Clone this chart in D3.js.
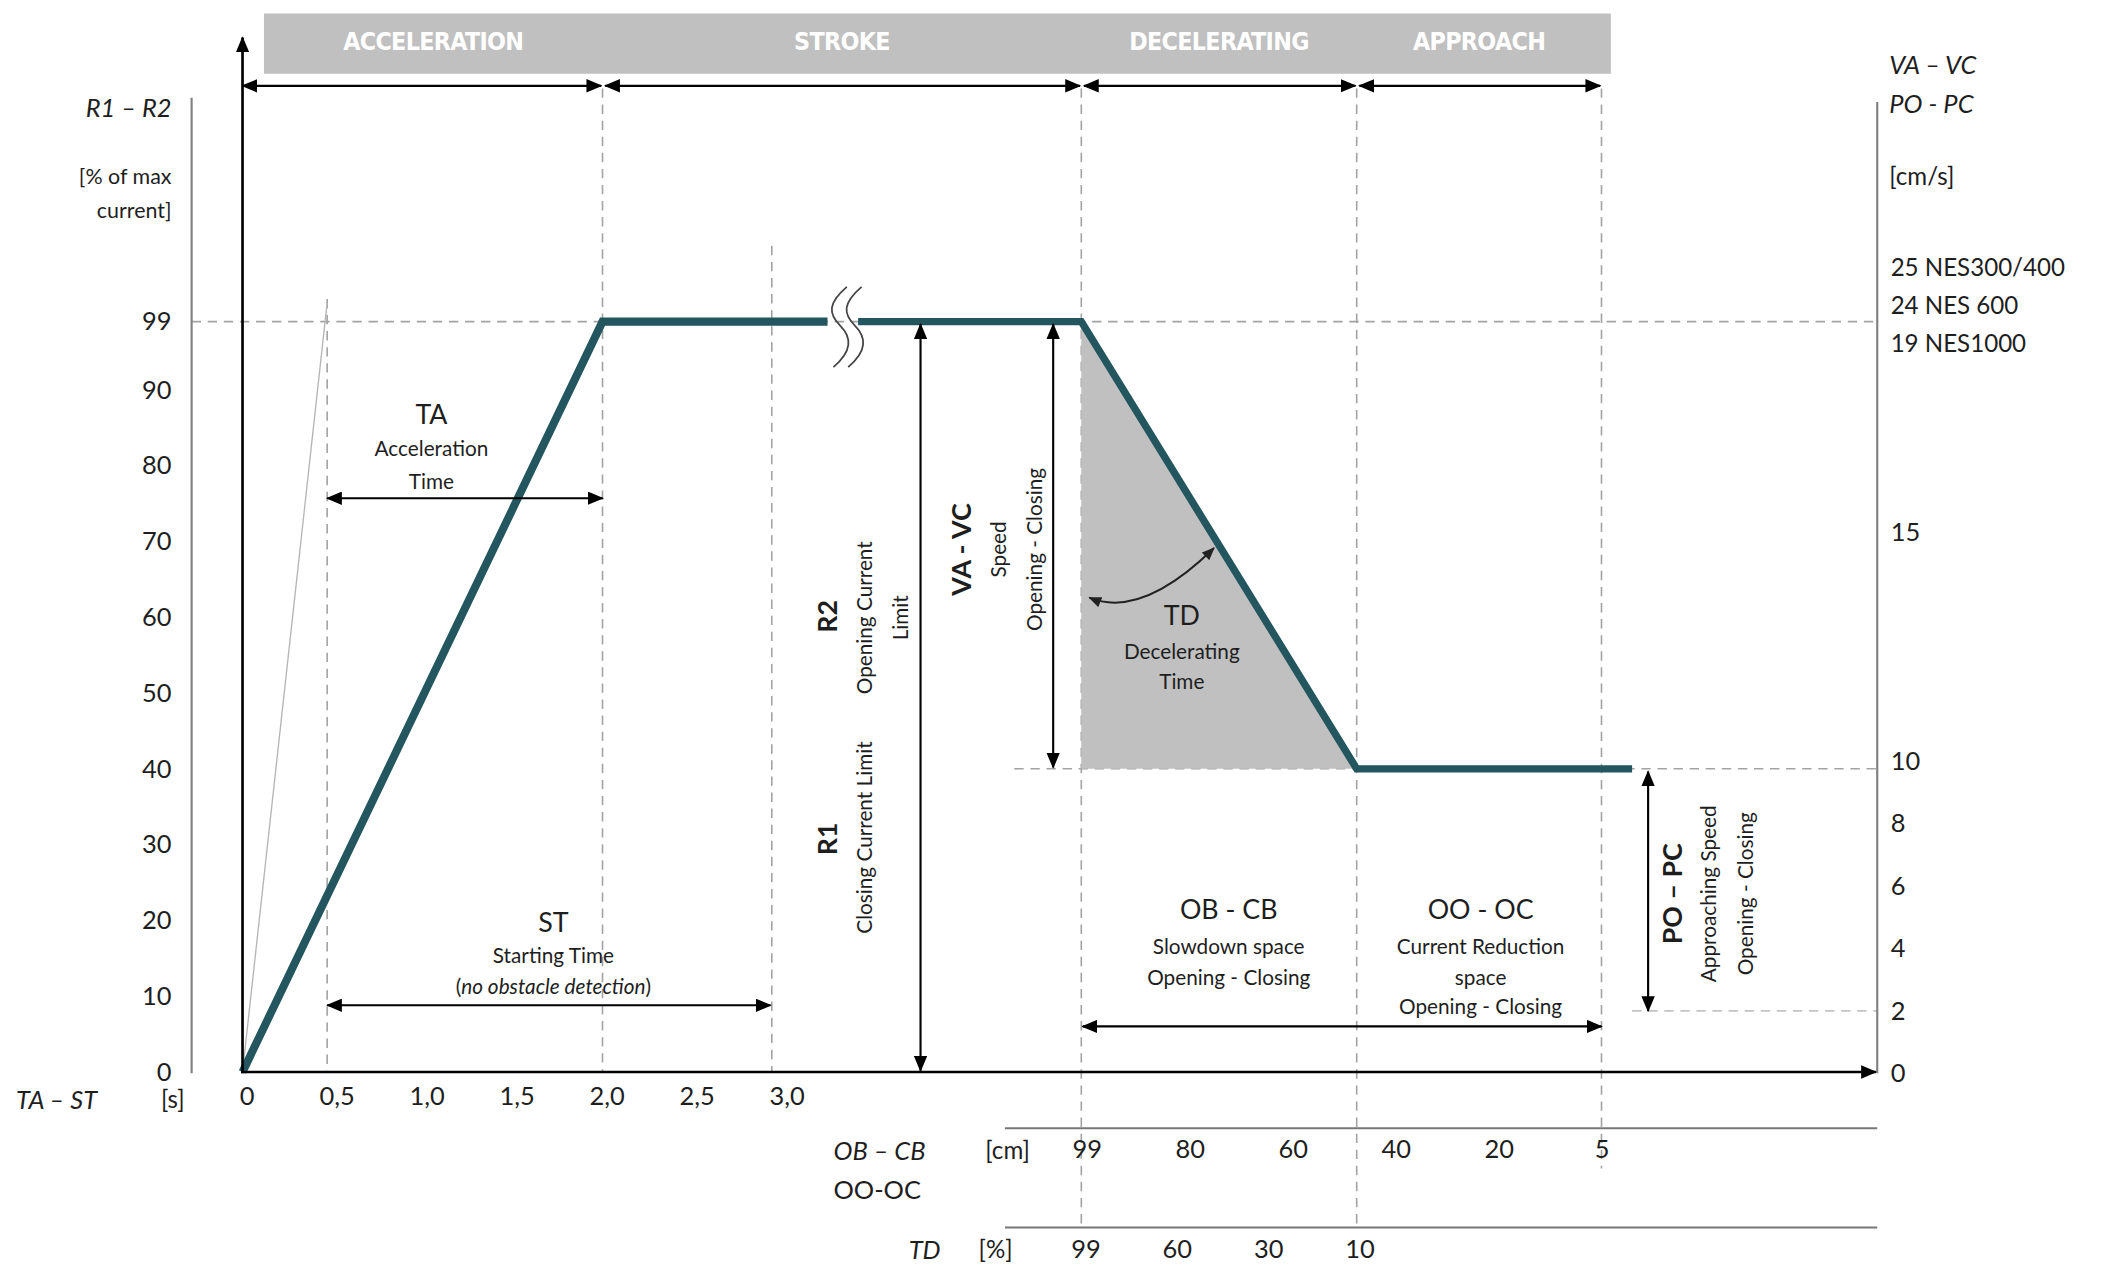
<!DOCTYPE html>
<html>
<head>
<meta charset="utf-8">
<script src="https://cdn.jsdelivr.net/npm/d3@7"></script>
<style>
  body { margin: 0; background: #fff; }
  text { font-family: Lato, "Noto Sans", sans-serif; fill: #1e1e1e; }
</style>
</head>
<body>
<svg id="chart"></svg>
<script>
// left axis: current in % of max
const currentTicks = [0, 10, 20, 30, 40, 50, 60, 70, 80, 90, 99];
// time axis (s)
const timeTicks = [0, 0.5, 1.0, 1.5, 2.0, 2.5, 3.0];
const timeLabels = ["0", "0,5", "1,0", "1,5", "2,0", "2,5", "3,0"];
// lower rows
const cmLabels = ["99", "80", "60", "40", "20", "5"];
const tdLabels = ["99", "60", "30", "10"];
// right axis: speed cm/s
const speedTicks = [0, 2, 4, 6, 8, 10, 15];
const speedModels = ["25 NES300/400", "24 NES 600", "19 NES1000"];
// phases along the (schematic) time line
const phases = ["ACCELERATION", "STROKE", "DECELERATING", "APPROACH"];
const phaseEdges = [0, 2.0, 4.66, 6.19, 7.55];
// current profile, before and after the axis break
const rampT = [0, 2.0, 3.25];
const rampR = [0, 99, 99];
const profileT = [3.42, 4.66, 6.19, 7.72];
const profileR = [99, 99, 40, 40];

const W = 1568, H = 944;
const svg = d3.select("#chart")
  .attr("width", 2101).attr("height", 1265)
  .attr("viewBox", `0 0 ${W} ${H}`);

const x = d3.scaleLinear().domain([0, 3]).range([181, 584]);
const y = d3.scaleLinear().domain([0, 99]).range([800, 240]);
const speed = d3.scaleLinear().domain([0, 10, 15]).range([801, 568, 397]);
const cmX = d3.scalePoint().domain(cmLabels).range([x(4.66) + 4, x(7.55)]);
const tdX = d3.scalePoint().domain(tdLabels).range([x(4.66) + 3, x(6.19) + 2]);

const teal = "#23565f", dashGrey = "#a3a3a3", axisGrey = "#808080";
const rightX = 1401, leftGreyX = 143;
const rowCm = 858, rowTd = 932;

// markers
const defs = svg.append("defs");
defs.append("marker").attr("id", "ah")
  .attr("viewBox", "0 0 12 10").attr("refX", 11).attr("refY", 5)
  .attr("markerWidth", 12).attr("markerHeight", 10)
  .attr("markerUnits", "userSpaceOnUse").attr("orient", "auto-start-reverse")
  .append("path").attr("d", "M0,0L12,5L0,10z").attr("fill", "#000");
defs.append("marker").attr("id", "ahs")
  .attr("viewBox", "0 0 12 10").attr("refX", 11).attr("refY", 5)
  .attr("markerWidth", 10).attr("markerHeight", 8)
  .attr("markerUnits", "userSpaceOnUse").attr("orient", "auto-start-reverse")
  .append("path").attr("d", "M0,0L12,5L0,10z").attr("fill", "#222");

function arrow(x1, y1, x2, y2, both = true) {
  const l = svg.append("line")
    .attr("x1", x1).attr("y1", y1).attr("x2", x2).attr("y2", y2)
    .attr("stroke", "#000").attr("stroke-width", 1.6)
    .attr("marker-end", "url(#ah)");
  if (both) l.attr("marker-start", "url(#ah)");
  return l;
}
function dashed(x1, y1, x2, y2, col = dashGrey) {
  svg.append("line")
    .attr("x1", x1).attr("y1", y1).attr("x2", x2).attr("y2", y2)
    .attr("stroke", col).attr("stroke-width", 1.2)
    .attr("stroke-dasharray", "7,5");
}
function label(tx, ty, str, size, opts = {}) {
  const t = svg.append("text")
    .attr("x", tx).attr("y", ty)
    .attr("font-size", size)
    .attr("text-anchor", opts.anchor || "middle")
    .attr("dominant-baseline", "central")
    .attr("font-weight", opts.weight || "normal")
    .attr("font-style", opts.italic ? "italic" : "normal")
    .text(str);
  if (opts.rotate) t.attr("transform", `rotate(-90 ${tx} ${ty})`);
  return t;
}
function styleTicks(g, size = 19) {
  g.select(".domain").remove();
  g.selectAll("text").attr("font-size", size).style("fill", "#1e1e1e");
}

// ---- phase banner ----
svg.append("rect")
  .attr("x", x(0) + 16).attr("y", 10)
  .attr("width", x(phaseEdges[4]) + 7 - x(0) - 16).attr("height", 45)
  .attr("fill", "#c0c0c0");
phases.forEach((p, i) => {
  const a = i === 0 ? x(0) + 16 : x(phaseEdges[i]);
  const b = x(phaseEdges[i + 1]);
  svg.append("text")
    .attr("x", (a + b) / 2).attr("y", 31)
    .attr("text-anchor", "middle").attr("dominant-baseline", "central")
    .attr("font-size", 18.5).attr("letter-spacing", -0.5)
    .style("font-family", "'DejaVu Sans Condensed', 'Liberation Sans Narrow', sans-serif")
    .style("font-weight", "bold")
    .style("fill", "#fff")
    .text(p);
});
// phase double arrows
phaseEdges.slice(0, -1).forEach((e, i) => {
  arrow(x(e) + (i ? 2 : 0), 64, x(phaseEdges[i + 1]) - 1, 64);
});

// ---- dashed guides ----
dashed(leftGreyX, y(99), rightX, y(99));
dashed(x(0.5) - 4, y(102), x(0.5) - 4, y(0));
dashed(x(2.0), 66, x(2.0), y(0));
dashed(x(3.0) - 8, y(109), x(3.0) - 8, y(0));
dashed(x(4.66), 66, x(4.66), rowTd - 16);
dashed(x(6.19), 66, x(6.19), rowTd - 16);
dashed(x(7.55), 66, x(7.55), rowCm + 14);
dashed(757, y(40), rightX, y(40));
dashed(x(7.72), speed(2), rightX, speed(2), "#c4c4c4");

// faint steep line (fast start)
svg.append("line")
  .attr("x1", x(0)).attr("y1", y(0)).attr("x2", x(0.5) - 4).attr("y2", y(101.5))
  .attr("stroke", "#b5b5b5").attr("stroke-width", 1);

// ---- decelerating area ----
const area = d3.zip([4.66, 6.19, 4.66], [99, 40, 40]);
svg.append("path")
  .attr("d", d3.line().x(d => x(d[0])).y(d => y(d[1]))(area) + "Z")
  .attr("fill", "#c0c0c0");

// ---- profile line ----
const line = d3.line().x(d => x(d[0])).y(d => y(d[1]));
svg.append("path").attr("d", line(d3.zip(rampT, rampR)))
  .attr("fill", "none").attr("stroke", teal).attr("stroke-width", 6)
  .attr("stroke-linejoin", "miter");
svg.append("path").attr("d", line(d3.zip(profileT, profileR)))
  .attr("fill", "none").attr("stroke", teal).attr("stroke-width", 5.5)
  .attr("stroke-linejoin", "miter");

// axis break
[627, 638].forEach(cx => {
  svg.append("path")
    .attr("d", `M${cx + 5},214 C${cx - 9},226 ${cx - 9},234 ${cx},243 C${cx + 9},252 ${cx + 9},262 ${cx - 5},274`)
    .attr("fill", "none").attr("stroke", "#444").attr("stroke-width", 1.3);
});

// ---- axes ----
svg.append("line").attr("x1", leftGreyX).attr("y1", 73).attr("x2", leftGreyX).attr("y2", 801)
  .attr("stroke", axisGrey).attr("stroke-width", 1.6);
svg.append("line").attr("x1", rightX).attr("y1", 76).attr("x2", rightX).attr("y2", 801)
  .attr("stroke", axisGrey).attr("stroke-width", 1.6);
arrow(x(0), y(0) + 1, x(0), 28, false).attr("stroke-width", 2);
arrow(x(0) - 1, y(0), rightX - 1, y(0), false).attr("stroke-width", 2);

// left ticks
const gy = svg.append("g").attr("transform", "translate(128,0)")
  .call(d3.axisLeft(y).tickValues(currentTicks).tickSize(0).tickPadding(0));
styleTicks(gy);
gy.selectAll("text").attr("dy", "0.32em");

// time ticks
const gx = svg.append("g").attr("transform", "translate(3,811)")
  .call(d3.axisBottom(x).tickValues(timeTicks)
    .tickFormat((d, i) => timeLabels[i]).tickSize(0).tickPadding(0));
styleTicks(gx);

// right speed ticks
const gs = svg.append("g").attr("transform", `translate(${rightX + 10},0)`)
  .call(d3.axisRight(speed).tickValues(speedTicks).tickFormat(d3.format("d"))
    .tickSize(0).tickPadding(0));
styleTicks(gs);
gs.selectAll("text").attr("dy", "0.32em");
speedModels.forEach((m, i) => label(rightX + 10, y(99) - 13 + (i - 1) * 28.5, m, 18, { anchor: "start" }));

// lower rows (cm, %)
[842, 916].forEach(ly => svg.append("line")
  .attr("x1", 750).attr("y1", ly).attr("x2", rightX).attr("y2", ly)
  .attr("stroke", "#777").attr("stroke-width", 1.5));
const gcm = svg.append("g").attr("transform", `translate(0,${rowCm - 7})`)
  .call(d3.axisBottom(cmX).tickSize(0).tickPadding(0));
styleTicks(gcm);
const gtd = svg.append("g").attr("transform", `translate(0,${rowTd - 7})`)
  .call(d3.axisBottom(tdX).tickSize(0).tickPadding(0));
styleTicks(gtd);

// axis titles
label(128, 80, "R1 \u2013 R2", 19, { anchor: "end", italic: true });
label(128, 131, "[% of max", 16, { anchor: "end" });
label(128, 157, "current]", 16, { anchor: "end" });
label(1410, 48, "VA \u2013 VC", 19, { anchor: "start", italic: true });
label(1410, 77, "PO - PC", 19, { anchor: "start", italic: true });
label(1410, 131, "[cm/s]", 18, { anchor: "start" });
label(12, 820, "TA \u2013 ST", 19, { anchor: "start", italic: true });
label(129, 820, "[s]", 18);
label(622, rowCm, "OB \u2013 CB", 19, { anchor: "start", italic: true });
label(752, rowCm, "[cm]", 18);
label(622, 887, "OO-OC", 19, { anchor: "start" });
label(702, rowTd, "TD", 19, { anchor: "end", italic: true });
label(743, rowTd, "[%]", 18);

// ---- annotations ----
// TA
label(322, 309, "TA", 20);
label(322, 334, "Acceleration", 15.5);
label(322, 359, "Time", 15.5);
arrow(x(0.5) - 4, y(75.7), x(2.0), y(75.7));
// ST
label(413, 688, "ST", 20);
label(413, 713, "Starting Time", 15.5);
const st = label(413, 736, "", 15.5);
st.append("tspan").text("(");
st.append("tspan").attr("font-style", "italic").text("no obstacle detection");
st.append("tspan").text(")");
arrow(x(0.5) - 4, y(8.8), x(3.0) - 9, y(8.8));
// R1 / R2
arrow(687, y(99) + 2, 687, y(0) - 1);
label(617, 460, "R2", 20, { rotate: true, weight: "bold" });
label(645, 461, "Opening Current", 15.5, { rotate: true });
label(672, 461, "Limit", 15.5, { rotate: true });
label(617, 626, "R1", 20, { rotate: true, weight: "bold" });
label(645, 625, "Closing Current Limit", 15.5, { rotate: true });
// VA - VC
arrow(786, y(99) + 2, 786, y(40) - 1);
label(717, 410, "VA - VC", 20, { rotate: true, weight: "bold" });
label(745, 410, "Speed", 15.5, { rotate: true });
label(772, 410, "Opening - Closing", 15.5, { rotate: true });
// TD
svg.append("path").attr("d", "M813,446 Q852,462 906,409")
  .attr("fill", "none").attr("stroke", "#222").attr("stroke-width", 1.5)
  .attr("marker-start", "url(#ahs)").attr("marker-end", "url(#ahs)");
label(882, 459, "TD", 20);
label(882, 486, "Decelerating", 15.5);
label(882, 508, "Time", 15.5);
// OB - CB / OO - OC
label(917, 678, "OB - CB", 20);
label(917, 706, "Slowdown space", 15.5);
label(917, 729, "Opening - Closing", 15.5);
label(1105, 678, "OO - OC", 20);
label(1105, 706, "Current Reduction", 15.5);
label(1105, 729, "space", 15.5);
label(1105, 751, "Opening - Closing", 15.5);
arrow(x(4.66) + 1, 766, x(7.55), 766);
// PO - PC
arrow(1230, y(40) + 2, 1230, speed(2));
label(1248, 667, "PO \u2013 PC", 20, { rotate: true, weight: "bold" });
label(1275, 667, "Approaching Speed", 15.5, { rotate: true });
label(1302, 667, "Opening - Closing", 15.5, { rotate: true });
</script>
</body>
</html>
